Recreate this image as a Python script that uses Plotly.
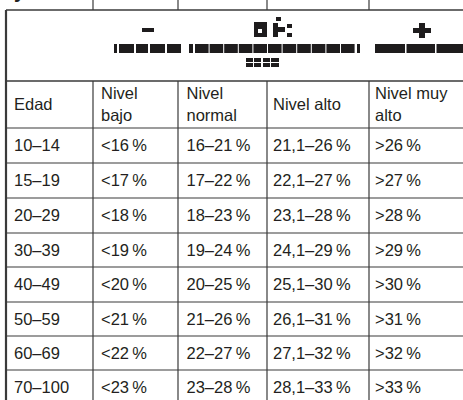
import plotly.graph_objects as go

# ---------------- data ----------------
edades = ["10–14", "15–19", "20–29", "30–39", "40–49", "50–59", "60–69", "70–100"]
bajo_max = [16, 17, 18, 19, 20, 21, 22, 23]
normal_min = [16, 17, 18, 19, 20, 21, 22, 23]
normal_max = [21, 22, 23, 24, 25, 26, 27, 28]
alto_min = [21.1, 22.1, 23.1, 24.1, 25.1, 26.1, 27.1, 28.1]
alto_max = [26, 27, 28, 29, 30, 31, 32, 33]
muy_alto_min = [26, 27, 28, 29, 30, 31, 32, 33]
encabezados = ["Edad", "Nivel<br>bajo", "Nivel<br>normal", "Nivel alto", "Nivel muy<br>alto"]
titulo_fragmento = "y"

# ---------------- layout constants ----------------
W, H = 463, 400
col_edges = [6, 93, 178, 267, 369, 470]
row_edges = [10, 81, 128, 163, 198, 233, 267, 302, 336, 370, 405]
col_pad = [8, 8, 8.5, 6, 6]
TEXT_DY = 1.5
LINE = "#3a3a3a"
INK = "#231f20"
FONT = "Liberation Sans, Arial, Helvetica, sans-serif"


def num(v):
    return ("%g" % v).replace(".", ",")


def pct(s):
    return s + "\u2009%"


rows = []
for i in range(len(edades)):
    rows.append([
        edades[i],
        pct("<" + num(bajo_max[i])),
        pct(num(normal_min[i]) + "–" + num(normal_max[i])),
        pct(num(alto_min[i]) + "–" + num(alto_max[i])),
        pct(">" + num(muy_alto_min[i])),
    ])

xs, ys, texts = [], [], []
hy = (row_edges[1] + row_edges[2]) / 2 + TEXT_DY
for c, t in enumerate(encabezados):
    xs.append(col_edges[c] + col_pad[c])
    ys.append(hy)
    texts.append(t)
for r, row in enumerate(rows):
    cy = (row_edges[r + 2] + row_edges[r + 3]) / 2 + TEXT_DY
    for c, t in enumerate(row):
        xs.append(col_edges[c] + col_pad[c])
        ys.append(cy)
        texts.append(t)

fig = go.Figure()
fig.add_trace(go.Scatter(
    x=xs, y=ys, text=texts, mode="text", textposition="middle right",
    textfont=dict(family=FONT, size=16.5, color=INK),
    cliponaxis=False, hoverinfo="skip", showlegend=False,
))

shapes = []
for i, y in enumerate(row_edges[:-1]):
    shapes.append(dict(type="line", x0=col_edges[0], x1=col_edges[-1], y0=y, y1=y,
                       line=dict(color=LINE, width=1.5 if i < 2 else 1.2)))
shapes.append(dict(type="line", x0=col_edges[0], x1=col_edges[0], y0=row_edges[0], y1=row_edges[-1],
                   line=dict(color=LINE, width=2.2)))
for x in col_edges[1:-1]:
    shapes.append(dict(type="line", x0=x, x1=x, y0=row_edges[1], y1=row_edges[-1],
                       line=dict(color=LINE, width=1.2)))
    shapes.append(dict(type="line", x0=x, x1=x, y0=-2, y1=row_edges[0],
                       line=dict(color=LINE, width=1.2)))

# LCD-style icons in the top row (decorative pixel glyphs)
icon_rects = [
    (142, 154, 28, 32),                       # "-"
    (413, 431, 28, 33), (419, 425, 23, 38),   # "+"
    (254, 267, 22, 29), (254, 258, 29, 37), (262, 267, 29, 37), (258, 262, 33, 37),  # "o"
    (276, 281, 17, 21), (273, 278, 23, 37), (278, 285, 27, 32),                      # "k"
    (287, 292, 24, 28), (287, 292, 33, 37),                                          # ":"
]
bar_y = (44, 53)
bar1 = [(114, 117), (119, 134), (136, 148), (150, 165), (167, 181)]
bar2 = [(189, 193)] + [(195 + k * 14.6, 195 + k * 14.6 + 13.6) for k in range(11)] + [(357, 360)]
bar3 = [(375, 405), (406.5, 435), (436.5, 470)]
for (a, b) in bar1 + bar2 + bar3:
    icon_rects.append((a, b, bar_y[0], bar_y[1]))
for (a, b) in [(246, 253), (254, 261), (263, 270), (271, 279)]:
    icon_rects.append((a, b, 58, 62))
    icon_rects.append((a, b, 63, 67))

for (x0, x1, y0, y1) in icon_rects:
    shapes.append(dict(type="rect", x0=x0, x1=x1, y0=y0, y1=y1,
                       fillcolor="#1e1c1d", line=dict(width=0)))

fig.update_layout(
    width=W, height=H,
    margin=dict(l=0, r=0, t=0, b=0),
    paper_bgcolor="white", plot_bgcolor="white",
    xaxis=dict(range=[0, W], visible=False, fixedrange=True),
    yaxis=dict(range=[H, 0], visible=False, fixedrange=True),
    shapes=shapes,
    annotations=[dict(text="<b>" + titulo_fragmento + "</b>", x=12, y=4, xref="x", yref="y",
                      xanchor="left", yanchor="bottom", showarrow=False,
                      font=dict(family=FONT, size=20, color=INK))],
)

fig.write_html("out.html", config={"displayModeBar": False},
               post_script="document.body.style.margin='0';document.body.style.overflow='hidden';")
